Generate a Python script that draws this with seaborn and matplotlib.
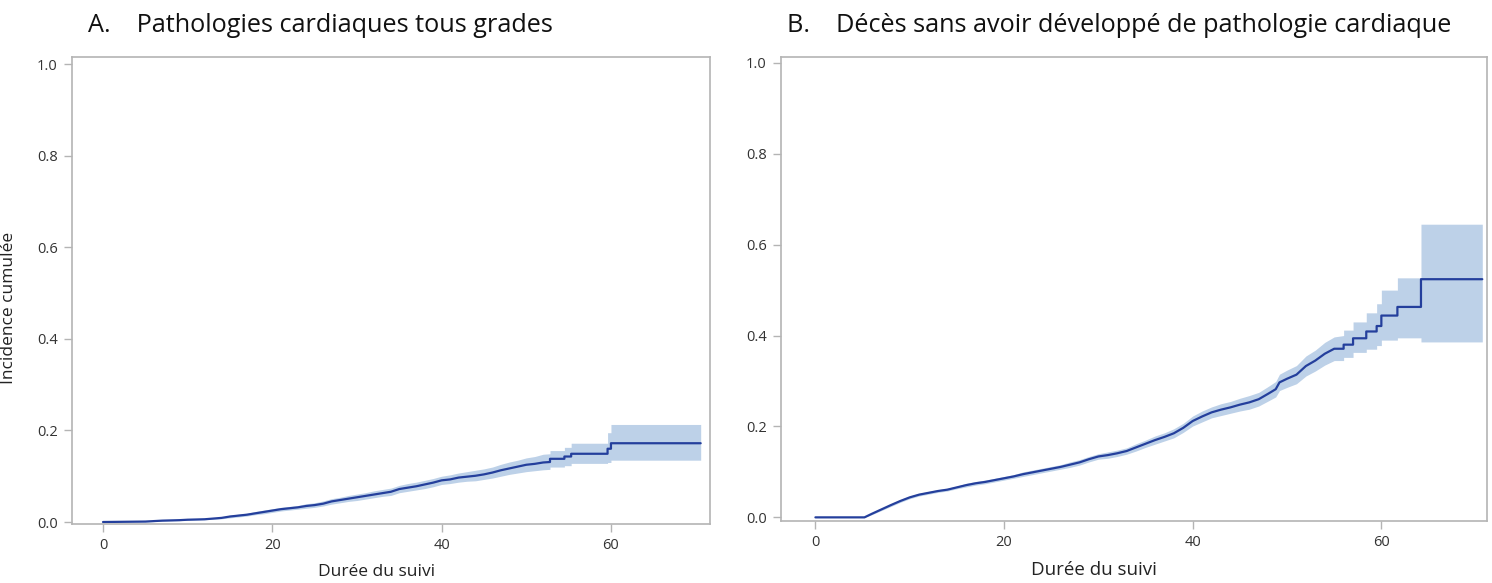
import pandas as pd
import seaborn as sns
import matplotlib.pyplot as plt

# =============== DONNÉES ===============
# Les sauts visibles (marches) sont notés avec deux points au même temps.

# A. Pathologies cardiaques tous grades
temps_a = [0, 5, 7, 9, 10, 12, 13, 14, 15, 16, 17, 18, 19, 20, 21, 22, 23, 24, 25, 26, 27,
           28, 29, 30, 31, 32, 33, 34, 35, 36, 37, 38, 39, 40, 41, 42, 43, 44, 45, 46, 47,
           48, 49, 50, 51, 52, 52.8, 52.8, 54.5, 54.5, 55.3, 55.3, 59.6, 59.6, 60.0, 60.0, 70.6]
inc_a = [0.0, 0.001, 0.003, 0.004, 0.005, 0.006, 0.0075, 0.009, 0.012, 0.014, 0.016, 0.019, 0.022,
         0.025, 0.028, 0.030, 0.032, 0.035, 0.037, 0.040, 0.045, 0.048, 0.051, 0.054, 0.057,
         0.060, 0.063, 0.066, 0.072, 0.075, 0.078, 0.082, 0.086, 0.091, 0.093, 0.097, 0.099,
         0.101, 0.104, 0.108, 0.113, 0.117, 0.121, 0.125, 0.127, 0.130, 0.131, 0.138, 0.138,
         0.143, 0.143, 0.149, 0.149, 0.160, 0.160, 0.172, 0.172]
bas_a = [0.0, 0.0, 0.002, 0.003, 0.004, 0.005, 0.006, 0.007, 0.009, 0.011, 0.013, 0.016, 0.018,
         0.021, 0.024, 0.026, 0.028, 0.030, 0.032, 0.035, 0.039, 0.042, 0.045, 0.047, 0.050,
         0.053, 0.056, 0.058, 0.064, 0.067, 0.070, 0.073, 0.077, 0.082, 0.084, 0.087, 0.089,
         0.090, 0.093, 0.096, 0.100, 0.104, 0.107, 0.110, 0.112, 0.114, 0.115, 0.120, 0.120,
         0.123, 0.123, 0.128, 0.128, 0.130, 0.130, 0.135, 0.135]
haut_a = [0.001, 0.002, 0.004, 0.006, 0.007, 0.008, 0.009, 0.011, 0.015, 0.017, 0.019, 0.023, 0.026,
          0.029, 0.032, 0.034, 0.036, 0.040, 0.042, 0.046, 0.051, 0.054, 0.058, 0.061, 0.064,
          0.068, 0.071, 0.074, 0.080, 0.084, 0.087, 0.091, 0.095, 0.100, 0.103, 0.107, 0.110,
          0.113, 0.116, 0.120, 0.126, 0.131, 0.135, 0.140, 0.143, 0.148, 0.149, 0.156, 0.156,
          0.163, 0.163, 0.172, 0.172, 0.195, 0.195, 0.213, 0.213]

# B. Décès sans avoir développé de pathologie cardiaque
temps_b = [0, 5.2, 6, 7, 8, 9, 10, 11, 12, 13, 14, 15, 16, 17, 18, 19, 20, 21, 22, 23, 24, 25,
           26, 27, 28, 29, 30, 31, 32, 33, 34, 35, 36, 37, 38, 39, 40, 41, 42, 43, 44, 45, 46,
           47, 48, 48.8, 49.2, 50, 51, 52, 53, 54, 55,
           56, 56, 57, 57, 58.4, 58.4, 59.5, 59.5, 60.0, 60.0, 61.7, 61.7, 64.2, 64.2, 70.7]
inc_b = [0.0, 0.0, 0.008, 0.0175, 0.027, 0.036, 0.044, 0.050, 0.054, 0.058, 0.061, 0.066, 0.071,
         0.075, 0.078, 0.082, 0.086, 0.090, 0.095, 0.099, 0.103, 0.107, 0.111, 0.116, 0.121,
         0.128, 0.134, 0.137, 0.141, 0.146, 0.154, 0.162, 0.170, 0.177, 0.185, 0.197, 0.212,
         0.222, 0.231, 0.237, 0.242, 0.248, 0.253, 0.260, 0.272, 0.282, 0.297, 0.305, 0.314,
         0.333, 0.345, 0.360, 0.371,
         0.371, 0.380, 0.380, 0.394, 0.394, 0.409, 0.409, 0.421, 0.421, 0.444, 0.444, 0.463,
         0.463, 0.524, 0.524]
bas_b = [0.0, 0.0, 0.006, 0.015, 0.024, 0.033, 0.041, 0.047, 0.051, 0.055, 0.058, 0.063, 0.067,
         0.071, 0.074, 0.078, 0.082, 0.086, 0.090, 0.094, 0.098, 0.102, 0.106, 0.110, 0.115,
         0.122, 0.128, 0.130, 0.134, 0.139, 0.146, 0.154, 0.161, 0.168, 0.175, 0.187, 0.201,
         0.210, 0.219, 0.224, 0.229, 0.234, 0.238, 0.245, 0.256, 0.265, 0.279, 0.286, 0.294,
         0.311, 0.322, 0.335, 0.345,
         0.345, 0.352, 0.352, 0.363, 0.363, 0.370, 0.370, 0.378, 0.378, 0.390, 0.390, 0.395,
         0.395, 0.386, 0.386]
haut_b = [0.001, 0.002, 0.010, 0.020, 0.030, 0.039, 0.047, 0.053, 0.057, 0.061, 0.064, 0.069, 0.075,
          0.079, 0.082, 0.086, 0.090, 0.094, 0.100, 0.104, 0.108, 0.112, 0.116, 0.122, 0.127,
          0.134, 0.140, 0.144, 0.148, 0.153, 0.162, 0.170, 0.179, 0.186, 0.195, 0.207, 0.223,
          0.234, 0.243, 0.250, 0.255, 0.262, 0.268, 0.275, 0.288, 0.299, 0.315, 0.324, 0.334,
          0.355, 0.368, 0.385, 0.397,
          0.400, 0.412, 0.412, 0.430, 0.430, 0.450, 0.450, 0.470, 0.470, 0.500, 0.500, 0.527,
          0.527, 0.645, 0.645]

titres = ["A.    Pathologies cardiaques tous grades",
          "B.    Décès sans avoir développé de pathologie cardiaque"]
yticks = [0.0, 0.2, 0.4, 0.6, 0.8, 1.0]
xticks = [0, 20, 40, 60]

# =============== STYLE ===============
sns.set_theme(style="white")
plt.rcParams["font.family"] = ["Open Sans", "DejaVu Sans"]

COUL_LIGNE = "#243f9c"
COUL_BANDE = "#bdd1e8"
COUL_CADRE = "#b4b4b4"

fig = plt.figure(figsize=(14.92, 5.83), dpi=100)
ax_a = fig.add_axes([71.7 / 1492, 1 - 524.3 / 583, (710 - 71.7) / 1492, (524.3 - 56.7) / 583])
ax_b = fig.add_axes([780.7 / 1492, 1 - 521 / 583, (1487 - 780.7) / 1492, (521 - 56.5) / 583])

panneaux = [
    (ax_a, temps_a, inc_a, bas_a, haut_a, (-3.7, 71.7), (-0.005, 1.016), 12.5),
    (ax_b, temps_b, inc_b, bas_b, haut_b, (-3.68, 71.2), (-0.008, 1.014), 13.5),
]

for ax, t, y, lo, hi, xl, yl, fs in panneaux:
    df = pd.DataFrame({"temps": t, "incidence": y, "bas": lo, "haut": hi})
    ax.fill_between(df["temps"], df["bas"], df["haut"], color=COUL_BANDE, linewidth=0)
    sns.lineplot(data=df, x="temps", y="incidence", ax=ax, sort=False, estimator=None,
                 color=COUL_LIGNE, linewidth=1.6)
    ax.set_xlim(*xl)
    ax.set_ylim(*yl)
    ax.set_xticks(xticks)
    ax.set_yticks(yticks)
    ax.set_xticklabels([str(v) for v in xticks], fontsize=10.5, color="#333333")
    ax.set_yticklabels([f"{v:.1f}" for v in yticks], fontsize=10.5, color="#333333")
    ax.tick_params(axis="both", which="major", direction="out", length=6, width=1,
                   color=COUL_CADRE, pad=4, bottom=True, left=True)
    for sp in ax.spines.values():
        sp.set_color(COUL_CADRE)
        sp.set_linewidth(1.2)
    ax.set_xlabel("Durée du suivi", fontsize=fs, color="#222222")
    ax.set_ylabel("")
    ax.grid(False)

ax_a.set_ylabel("Incidence cumulée", fontsize=12.5, color="#222222")
ax_a.yaxis.set_label_coords(-0.086, 0.463)
ax_a.xaxis.set_label_coords(0.478, -0.085)
ax_b.xaxis.set_label_coords(0.444, -0.086)

fig.text(88 / 1492, 1 - 25 / 583, titres[0], fontsize=18.2, va="center", ha="left", color="#111111")
fig.text(787 / 1492, 1 - 25 / 583, titres[1], fontsize=18.2, va="center", ha="left", color="#111111")

fig.savefig("out.png", dpi=100)
